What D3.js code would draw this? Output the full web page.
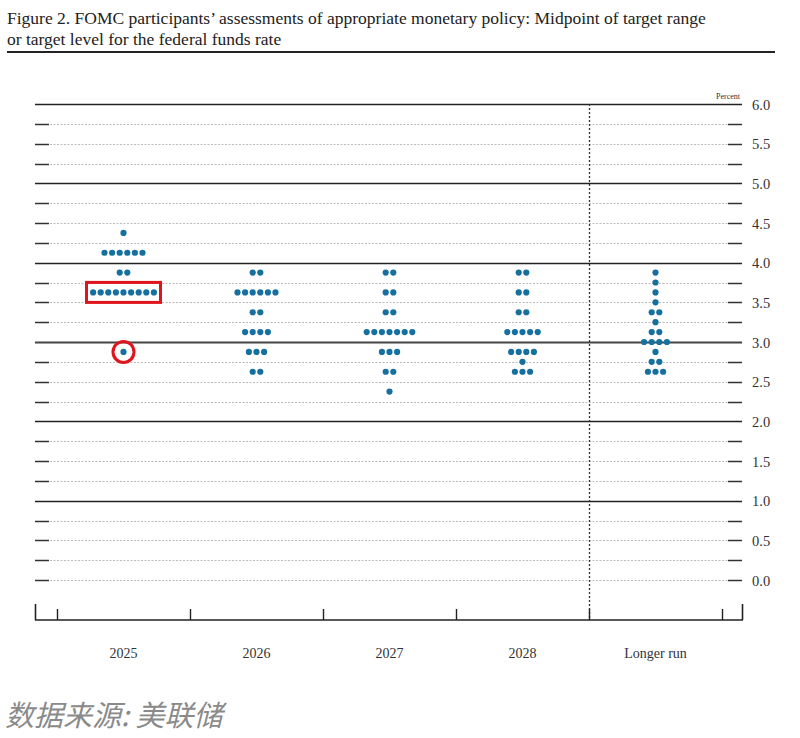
<!DOCTYPE html>
<html><head><meta charset="utf-8">
<script src="https://cdn.jsdelivr.net/npm/d3@7"></script>
<style>body{margin:0;background:#fff;}svg{display:block;}</style>
</head><body><svg id="c" width="800" height="738"></svg>
<script>
const categories = ["2025","2026","2027","2028","Longer run"];
// [rate, number of participants]
const dots2025 = [[4.375,1],[4.125,6],[3.875,2],[3.625,9],[2.875,1]];
const dots2026 = [[3.875,2],[3.625,6],[3.375,2],[3.125,4],[2.875,3],[2.625,2]];
const dots2027 = [[3.875,2],[3.625,2],[3.375,2],[3.125,7],[2.875,3],[2.625,2],[2.375,1]];
const dots2028 = [[3.875,2],[3.625,2],[3.375,2],[3.125,5],[2.875,4],[2.75,1],[2.625,3]];
const dotsLonger = [[3.875,1],[3.75,1],[3.625,1],[3.5,1],[3.375,2],[3.25,1],[3.125,2],[3.0,4],[2.875,1],[2.75,2],[2.625,3]];
const allDots = [dots2025,dots2026,dots2027,dots2028,dotsLonger];
const gridLevels = d3.range(0, 6.001, 0.25);
const tickLabels = ["0.0","0.5","1.0","1.5","2.0","2.5","3.0","3.5","4.0","4.5","5.0","5.5","6.0"];
const titleLines = ["Figure 2. FOMC participants\u2019 assessments of appropriate monetary policy: Midpoint of target range","or target level for the federal funds rate"];
const sourceText = "数据来源: 美联储";

const svg = d3.select("#c");
const serif = "'Liberation Serif','DejaVu Serif',serif";
const y = d3.scaleLinear().domain([0,6]).range([580,104]);
const x = d3.scaleBand().domain(categories).range([57,722]).paddingInner(0).paddingOuter(0);
const L = 35, R = 743, base = 620;

// title
svg.selectAll("text.title").data(titleLines).join("text")
  .attr("x",7).attr("y",(d,i)=>24+i*21).attr("font-family",serif).attr("font-size",17.5)
  .attr("fill","#222").text(d=>d);
svg.append("line").attr("x1",7).attr("x2",775).attr("y1",52).attr("y2",52).attr("stroke","#222").attr("stroke-width",2.2);

// grid
gridLevels.forEach(v=>{
  const yy = Math.round(y(v))+0.5;
  const isInt = Math.abs(v-Math.round(v))<1e-9 && v>0;
  if(isInt){
    svg.append("line").attr("x1",L).attr("x2",R-1).attr("y1",yy).attr("y2",yy)
      .attr("stroke", v===3?"#444":"#222").attr("stroke-width", v===3?2:1.5);
  } else {
    svg.append("line").attr("x1",L+15).attr("x2",R-15).attr("y1",yy).attr("y2",yy)
      .attr("stroke","#bbb").attr("stroke-width",1).attr("stroke-dasharray","2,1.5");
    svg.append("line").attr("x1",L).attr("x2",L+14).attr("y1",yy).attr("y2",yy).attr("stroke","#333").attr("stroke-width",1.5);
    svg.append("line").attr("x1",R-15).attr("x2",R-1).attr("y1",yy).attr("y2",yy).attr("stroke","#333").attr("stroke-width",1.5);
  }
});
// right axis labels
const yAxis = d3.axisRight(y).tickValues(d3.range(0,6.001,0.5)).tickSize(0).tickFormat((d,i)=>tickLabels[i]);
const ga = svg.append("g").attr("transform",`translate(752,0)`).call(yAxis);
ga.select(".domain").remove();
ga.selectAll("text").attr("font-family",serif).attr("font-size",14.5).attr("fill","#333").attr("x",0).attr("dy","0.35em");
svg.append("text").attr("x",740).attr("y",99).attr("text-anchor","end").attr("font-family",serif)
  .attr("font-size",8).attr("fill","#333").text("Percent");

// vertical dotted separator
svg.append("line").attr("x1",589.5).attr("x2",589.5).attr("y1",104).attr("y2",base)
  .attr("stroke","#333").attr("stroke-width",1.3).attr("stroke-dasharray","2,2");

// x axis baseline
svg.append("line").attr("x1",L).attr("x2",R).attr("y1",base).attr("y2",base).attr("stroke","#222").attr("stroke-width",1.6);
svg.append("line").attr("x1",L+0.5).attr("x2",L+0.5).attr("y1",604).attr("y2",base).attr("stroke","#222").attr("stroke-width",1.6);
svg.append("line").attr("x1",R-0.5).attr("x2",R-0.5).attr("y1",604).attr("y2",base).attr("stroke","#222").attr("stroke-width",1.6);
const bounds = categories.map(c=>x(c)).concat([x(categories[categories.length-1])+x.bandwidth()]);
svg.selectAll("line.xt").data(bounds).join("line").attr("class","xt")
  .attr("x1",d=>Math.round(d)+0.5).attr("x2",d=>Math.round(d)+0.5).attr("y1",609).attr("y2",base)
  .attr("stroke","#222").attr("stroke-width",1.4);
svg.selectAll("text.xl").data(categories).join("text").attr("class","xl")
  .attr("x",d=>x(d)+x.bandwidth()/2).attr("y",658).attr("text-anchor","middle")
  .attr("font-family",serif).attr("font-size",14).attr("fill","#333").text(d=>d);

// dots
const sp = 7.6, r = 3.1;
allDots.forEach((rows,ci)=>{
  const cx = x(categories[ci])+x.bandwidth()/2;
  rows.forEach(([rate,n])=>{
    svg.append("g").selectAll("circle").data(d3.range(n)).join("circle")
      .attr("cx",k=>cx+(k-(n-1)/2)*sp).attr("cy",y(rate)).attr("r",r).attr("fill","#16709f");
  });
});

// red highlights
const c25 = x("2025")+x.bandwidth()/2;
svg.append("rect").attr("x",c25-37).attr("y",y(3.625)-10).attr("width",74).attr("height",20)
  .attr("fill","none").attr("stroke","#e0141c").attr("stroke-width",3);
svg.append("circle").attr("cx",c25).attr("cy",y(2.875)).attr("r",10.5)
  .attr("fill","none").attr("stroke","#e0141c").attr("stroke-width",3);

// source
svg.append("text").attr("x",5).attr("y",726).attr("font-family","'Noto Sans CJK SC',sans-serif")
  .attr("font-size",29).attr("font-style","italic").attr("fill","#8a8a8a").text(sourceText);
</script></body></html>
